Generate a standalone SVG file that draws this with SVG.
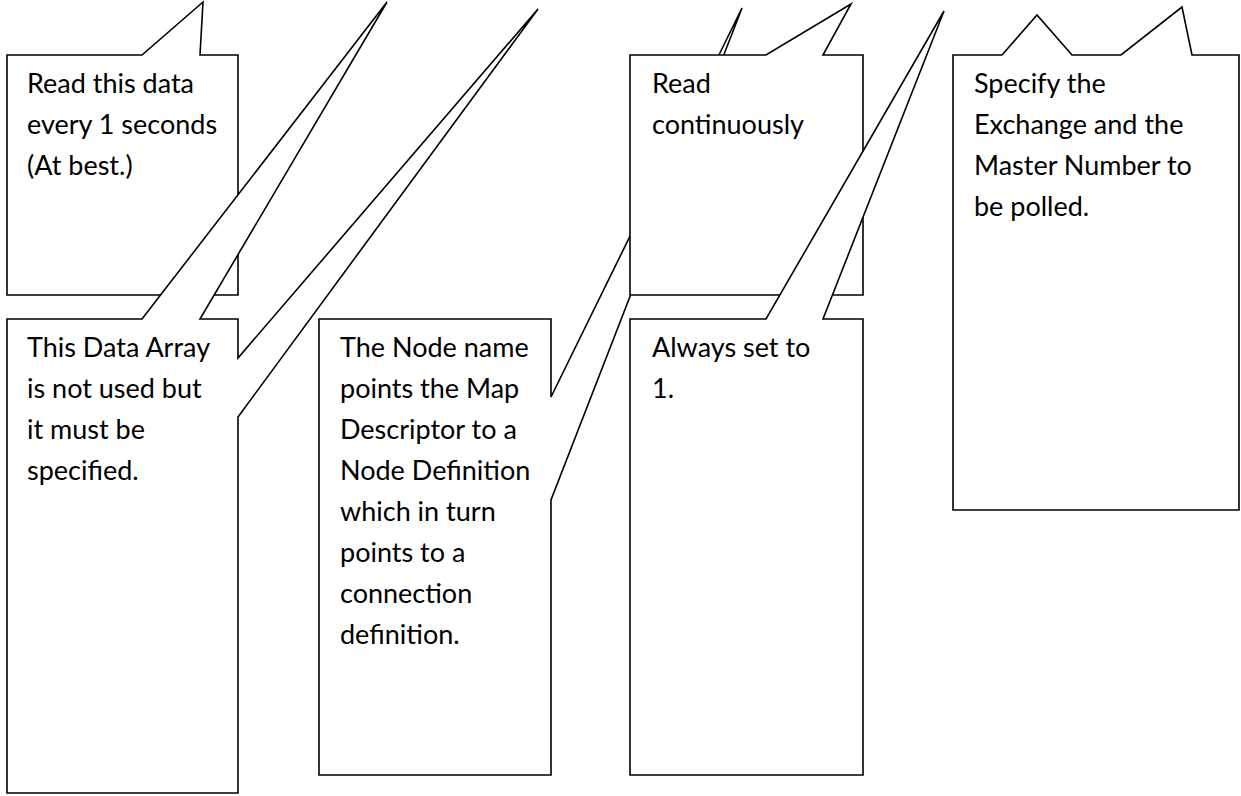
<svg xmlns="http://www.w3.org/2000/svg" width="1241" height="796" viewBox="0 0 1241 796">
  <style>
    .callout { fill: #ffffff; stroke: #000000; stroke-width: 1.6; stroke-linejoin: miter; }
    .label { font-family: Lato, "Liberation Sans", sans-serif; font-size: 27px; fill: #000000; }
  </style>
  <rect x="0" y="0" width="1241" height="796" fill="#ffffff"/>
  <g id="connectors"/>
  <g id="node-read-every">
    <path class="callout" d="M7,55 L142,55 L203,2 L200,55 L238,55 L238,295 L7,295 Z"/>
    <text class="label"><tspan x="27" y="93">Read this data</tspan><tspan x="27" y="134">every 1 seconds</tspan><tspan x="27" y="175">(At best.)</tspan></text>
  </g>
  <g id="node-data-array">
    <path class="callout" d="M7,319 L142,319 L387,2 L200,319 L238,319 L238,358 L538,9 L238,417 L238,793 L7,793 Z"/>
    <text class="label"><tspan x="27" y="357">This Data Array</tspan><tspan x="27" y="398">is not used but</tspan><tspan x="27" y="439">it must be</tspan><tspan x="27" y="480">specified.</tspan></text>
  </g>
  <g id="node-node-name">
    <path class="callout" d="M319,319 L551,319 L551,397 L742,8 L551,500 L551,775 L319,775 Z"/>
    <text class="label"><tspan x="340" y="357">The Node name</tspan><tspan x="340" y="398">points the Map</tspan><tspan x="340" y="439">Descriptor to a</tspan><tspan x="340" y="480">Node Definition</tspan><tspan x="340" y="521">which in turn</tspan><tspan x="340" y="562">points to a</tspan><tspan x="340" y="603">connection</tspan><tspan x="340" y="644">definition.</tspan></text>
  </g>
  <g id="node-read-continuously">
    <path class="callout" d="M630,55 L766,55 L851,4 L823,55 L863,55 L863,295 L630,295 Z"/>
    <text class="label"><tspan x="652" y="93">Read</tspan><tspan x="652" y="134">continuously</tspan></text>
  </g>
  <g id="node-always-one">
    <path class="callout" d="M630,319 L766,319 L944,11 L823,319 L863,319 L863,775 L630,775 Z"/>
    <text class="label"><tspan x="652" y="357">Always set to</tspan><tspan x="652" y="398">1.</tspan></text>
  </g>
  <g id="node-exchange-master">
    <path class="callout" d="M953,55 L1002,55 L1037,15 L1072,55 L1121,55 L1182,7 L1192,55 L1239,55 L1239,510 L953,510 Z"/>
    <text class="label"><tspan x="974" y="93">Specify the</tspan><tspan x="974" y="134">Exchange and the</tspan><tspan x="974" y="175">Master Number to</tspan><tspan x="974" y="216">be polled.</tspan></text>
  </g>
</svg>
